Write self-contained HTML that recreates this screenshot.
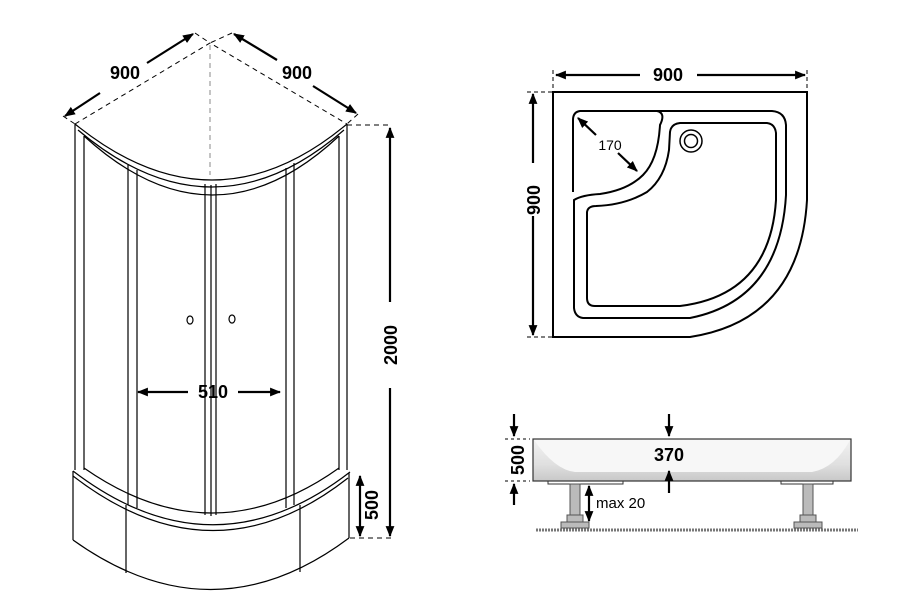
<!DOCTYPE html>
<html><head><meta charset="utf-8"><style>
html,body{margin:0;padding:0;background:#fff}
svg{display:block}
text{font-family:"Liberation Sans",sans-serif;font-weight:bold;fill:#000}
</style></head><body>
<svg width="898" height="613" viewBox="0 0 898 613" xmlns="http://www.w3.org/2000/svg">
<defs>
<marker id="a" viewBox="0 0 10 10" refX="9" refY="5" markerWidth="5" markerHeight="5" orient="auto-start-reverse"><path d="M0,1 L10,5 L0,9 z" fill="#000"/></marker>
<linearGradient id="tg" x1="0" y1="0" x2="0" y2="1"><stop offset="0" stop-color="#f2f2f2"/><stop offset="0.6" stop-color="#e0e0e0"/><stop offset="1" stop-color="#c8c8c8"/></linearGradient>
</defs>
<g fill="none" stroke="#000" stroke-width="1.2">
<g stroke-dasharray="5,4" stroke-width="1">
<path d="M75,124 L210,43 L347,124"/>
<path d="M63,116 L75,124 M195,33 L210,43 M232,33 L210,43 M358,114 L347,124"/>
<path d="M347,125 L392,125 M350,538 L392,538" />
<path d="M210,45 L210,175" stroke="#888"/>
</g>
<path d="M75,124 Q213,236 347,124"/>
<path d="M78,130 Q213,244 344,130"/>
<path d="M84,136 Q213,254 339,136"/>
<path d="M75,124 V470 M84,136 V470 M128,165 V505 M137,170 V508 M205,184 V515 M211,185 V516 M216,184 V515 M286,168 V508 M294,163 V505 M339,136 V470 M347,124 V470"/>
<path d="M84,468 Q213,558 339,468"/>
<path d="M73,471 Q213,578 350,472"/>
<path d="M73,476 Q213,584 348,478"/>
<path d="M73,471 V540 M349,473 V538"/>
<path d="M73,540 Q213,640 349,538"/>
<path d="M126,505 V573 M300,505 V572"/>
<ellipse cx="190" cy="320" rx="3" ry="4"/>
<ellipse cx="232" cy="319" rx="3" ry="4"/>
<g stroke-width="2.2">
<path d="M100,93 L65,116" marker-end="url(#a)"/>
<path d="M147,63 L193,34" marker-end="url(#a)"/>
<path d="M277,60 L234,34" marker-end="url(#a)"/>
<path d="M313,86 L356,113" marker-end="url(#a)"/>
<path d="M188,392 L138,392" marker-end="url(#a)"/>
<path d="M238,392 L280,392" marker-end="url(#a)"/>
<path d="M390,302 V128" marker-end="url(#a)"/>
<path d="M390,388 V536" marker-end="url(#a)"/>
<path d="M360,488 V476" marker-end="url(#a)"/>
<path d="M360,488 V536" marker-end="url(#a)"/>
</g>
<path d="M553,92 H807 V200 Q800,320 690,337 H553 Z" stroke-width="2"/>
<path d="M580,111 H657 Q666,113 660,125 Q658,160 643,175 Q628,190 600,194 Q582,195 574,200 V308 Q575,317 583,318 H690 Q780,300 786,195 V125 Q785,112 772,111 H580 Q573,112 573,120 V192" stroke-width="2"/>
<path d="M680,123 H767 Q775,124 776,133 V200 Q770,295 680,306 H595 Q587,306 587,298 V212 Q588,206 596,206 Q625,205 647,192 Q665,178 669,150 L670,132 Q671,124 680,123 Z" stroke-width="2"/>
<circle cx="691" cy="141" r="11" stroke-width="1.5"/>
<circle cx="691" cy="141" r="6.5" stroke-width="1.5"/>
<g stroke-dasharray="4,3" stroke-width="1">
<path d="M553,70 V92 M807,70 V92 M527,92 H553 M527,337 H553"/>
</g>
<g stroke-width="2.2">
<path d="M640,75 H556" marker-end="url(#a)"/>
<path d="M697,75 H805" marker-end="url(#a)"/>
<path d="M533,163 V94" marker-end="url(#a)"/>
<path d="M533,216 V335" marker-end="url(#a)"/>
<path d="M596,135 L578,118" marker-end="url(#a)"/>
<path d="M618,153 L637,171" marker-end="url(#a)"/>
</g>
</g>
<rect x="533" y="439" width="318" height="42" fill="url(#tg)" stroke="#333" stroke-width="1.2"/>
<path d="M534,440 Q555,470 575,472 H812 Q835,468 850,440 Z" fill="#f7f7f7"/>
<rect x="548" y="481" width="75" height="3" fill="none" stroke="#333"/>
<rect x="781" y="481" width="52" height="3" fill="none" stroke="#333"/>
<g fill="#bbb" stroke="#555" stroke-width="1">
<rect x="570" y="484" width="10" height="32"/><rect x="567" y="515" width="16" height="8"/><rect x="561" y="522" width="28" height="6"/>
<rect x="803" y="484" width="10" height="32"/><rect x="800" y="515" width="16" height="8"/><rect x="794" y="522" width="28" height="6"/>
</g>
<path d="M536,530 H858" stroke="#777" stroke-width="3" stroke-dasharray="2,1"/>
<g stroke="#000" stroke-width="2.2" fill="none">
<path d="M514,414 V436" marker-end="url(#a)"/>
<path d="M514,505 V484" marker-end="url(#a)"/>
<path d="M669,414 V436" marker-end="url(#a)"/>
<path d="M669,493 V471" marker-end="url(#a)"/>
<path d="M589,503 V486" marker-end="url(#a)"/>
<path d="M589,503 V521" marker-end="url(#a)"/>
</g>
<path d="M505,439 H530 M505,481 H530" stroke="#000" stroke-dasharray="3,3"/>
<text x="125" y="79" font-size="18" text-anchor="middle">900</text>
<text x="297" y="79" font-size="18" text-anchor="middle">900</text>
<text x="213" y="398" font-size="18" text-anchor="middle">510</text>
<text transform="translate(397,345) rotate(-90)" font-size="18" text-anchor="middle">2000</text>
<text transform="translate(378,505) rotate(-90)" font-size="18" text-anchor="middle">500</text>
<text x="668" y="81" font-size="18" text-anchor="middle">900</text>
<text transform="translate(540,200) rotate(-90)" font-size="18" text-anchor="middle">900</text>
<text x="610" y="150" font-size="14" style="font-weight:normal" text-anchor="middle">170</text>
<text x="669" y="461" font-size="18" text-anchor="middle">370</text>
<text transform="translate(524,460) rotate(-90)" font-size="18" text-anchor="middle">500</text>
<text x="596" y="508" font-size="15" style="font-weight:normal">max 20</text>
</svg>
</body></html>
